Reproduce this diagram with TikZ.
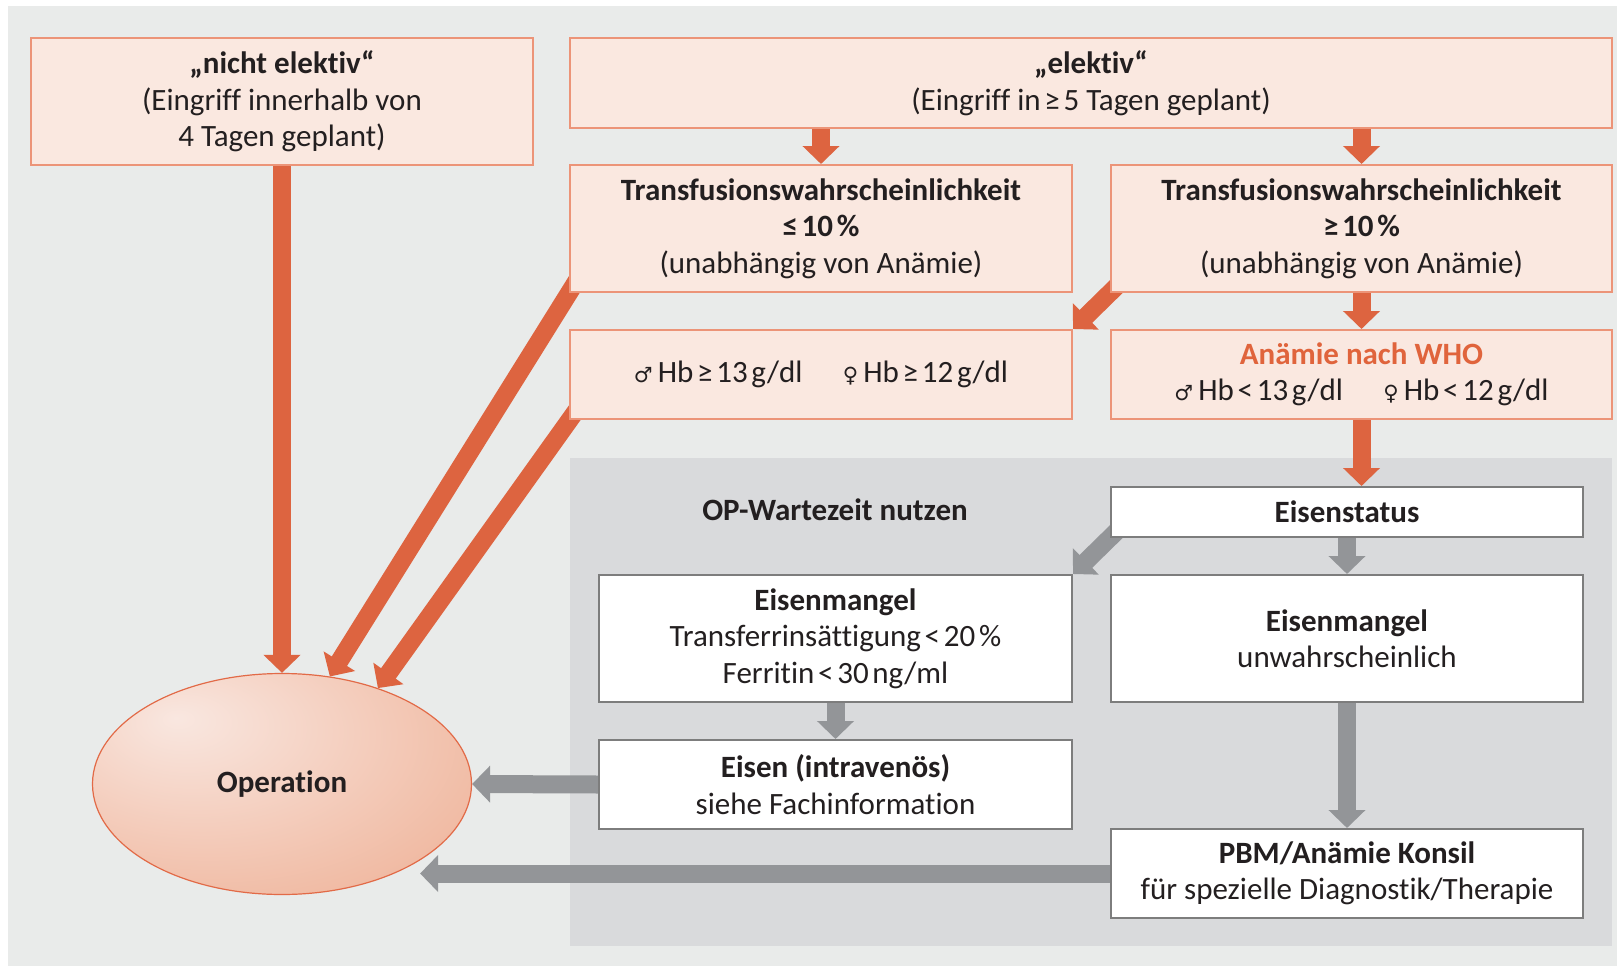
\documentclass[tikz,border=0pt]{standalone}
\usepackage{fontspec}
\setmainfont{Carlito}[Ligatures=NoCommon]
\newfontfamily\symf{DejaVu Sans}
\usetikzlibrary{arrows.meta,calc,shapes.geometric}
\pgfdeclarelayer{back}
\pgfdeclarelayer{mid}
\pgfsetlayers{back,mid,main}

\definecolor{bgc}{HTML}{E9EBEA}
\definecolor{panelc}{HTML}{D9DADC}
\definecolor{oboxc}{HTML}{FAE8E0}
\definecolor{olinec}{HTML}{EC9478}
\definecolor{oarrowc}{HTML}{DD6440}
\definecolor{garrowc}{HTML}{939598}
\definecolor{glinec}{HTML}{7D7D7D}
\definecolor{txtc}{HTML}{231F20}
\definecolor{otextc}{HTML}{E0643C}
\definecolor{opin}{HTML}{F9E7E0}
\definecolor{opmid}{HTML}{F1BEA8}
\definecolor{opout}{HTML}{EA9D7F}
\definecolor{opedge}{HTML}{E26A47}

% warm radial fill of the "Operation" ellipse, lighter towards the upper left
\pgfdeclareradialshading{opshade}{\pgfpoint{-14bp}{15bp}}{%
  color(0bp)=(opin); color(34bp)=(opmid); color(62bp)=(opout); color(90bp)=(opout)}

\newcommand{\marssym}{{\symf\fontsize{21}{21}\selectfont ♂}}
\newcommand{\venussym}{{\symf\fontsize{21}{21}\selectfont ♀}}
\newcommand{\ts}{\hspace{0.12em}}

\begin{document}
\begin{tikzpicture}[x=1pt,y=-1pt,
  txtfont/.style={font=\fontsize{31}{36.5}\selectfont, text=txtc, align=center},
  obox/.style={txtfont, draw=olinec, line width=2pt, fill=oboxc, inner sep=0pt},
  wbox/.style={txtfont, draw=glinec, line width=2pt, fill=white, inner sep=0pt},
  oarr/.style={draw=oarrowc, line width=18pt, -{Triangle[width=36pt,length=18pt]}},
  garr/.style={draw=garrowc, line width=18pt, -{Triangle[width=36pt,length=18pt]}}]
\useasboundingbox (0,0) rectangle (1617,966);

\begin{pgfonlayer}{back}
  \fill[bgc] (8,6) rectangle (1617,966);
  \fill[panelc] (570,458) rectangle (1612,946);
\end{pgfonlayer}

% upper decision boxes
\node[obox, minimum width=502pt, minimum height=127pt] (ne) at (282,101.5)
  {\textbf{„nicht elektiv“}\\(Eingriff innerhalb von\\4 Tagen geplant)};
\node[obox, minimum width=1042pt, minimum height=90pt] (el) at (1091,83)
  {\textbf{„elektiv“}\\(Eingriff in\ts≥\ts5 Tagen geplant)};
\node[obox, minimum width=502pt, minimum height=127pt] (tle) at (821,228.5)
  {\textbf{Transfusionswahrscheinlichkeit}\\\textbf{≤\ts10\ts\%}\\(unabhängig von Anämie)};
\node[obox, minimum width=501pt, minimum height=127pt] (tge) at (1361.5,228.5)
  {\textbf{Transfusionswahrscheinlichkeit}\\\textbf{≥\ts10\ts\%}\\(unabhängig von Anämie)};
\node[obox, minimum width=502pt, minimum height=89pt] (hb) at (821,374.5)
  {\marssym\,Hb\ts≥\ts13\ts g/dl\hspace{1.3em}\venussym\,Hb\ts≥\ts12\ts g/dl};
\node[obox, minimum width=501pt, minimum height=89pt] (an) at (1361.5,374.5)
  {\textcolor{otextc}{\textbf{Anämie nach WHO}}\\\marssym\,Hb\ts<\ts13\ts g/dl\hspace{1.3em}\venussym\,Hb\ts<\ts12\ts g/dl};

% waiting-time panel
\node[txtfont] (wz) at (835,510) {\textbf{OP-Wartezeit nutzen}};
\node[wbox, minimum width=472pt, minimum height=50pt] (es) at (1347,512)
  {\textbf{Eisenstatus}};
\node[wbox, minimum width=473pt, minimum height=127pt] (eml) at (835.5,638.5)
  {\textbf{Eisenmangel}\\Transferrinsättigung\ts<\ts20\ts\%\\Ferritin\ts<\ts30\ts ng/ml};
\node[wbox, minimum width=472pt, minimum height=127pt] (emr) at (1347,638.5)
  {\textbf{Eisenmangel}\\unwahrscheinlich};
\node[wbox, minimum width=473pt, minimum height=89pt] (iv) at (835.5,784.5)
  {\textbf{Eisen (intravenös)}\\siehe Fachinformation};
\node[wbox, minimum width=472pt, minimum height=89pt] (pbm) at (1347,873.5)
  {\textbf{PBM/Anämie Konsil}\\für spezielle Diagnostik/Therapie};

% target
\node[ellipse, draw=opedge, line width=1.2pt, shading=opshade, txtfont,
      minimum width=379pt, minimum height=221pt, inner sep=0pt] (op) at (282,784)
  {\textbf{Operation}};

\begin{pgfonlayer}{mid}
  \draw[oarr] (ne.south) -- (op.north);
  \draw[oarr] ($(tle.south west)+(10,-16)$) -- (op.66);
  \draw[oarr] ($(hb.south west)+(12,-16)$) -- (op.45);
  \draw[oarr] (tle.north |- el.south) -- (tle.north);
  \draw[oarr] (tge.north |- el.south) -- (tge.north);
  \draw[oarr] (tge.south) -- (an.north);
  \draw[oarr] ($(tge.south west)+(12,-12)$) -- (hb.north east);
  \draw[oarr] (an.south) -- (an.south |- es.north);
  \draw[garr] ($(es.south west)+(12,-12)$) -- (eml.north east);
  \draw[garr] (es.south) -- (emr.north);
  \draw[garr] (eml.south) -- (iv.north);
  \draw[garr] (emr.south) -- (pbm.north);
  \draw[garr] (iv.west) -- (op.east);
  \draw[garr] (pbm.west) -- ($(op.east |- pbm.west)+(-52,0)$);
\end{pgfonlayer}
\end{tikzpicture}
\end{document}
